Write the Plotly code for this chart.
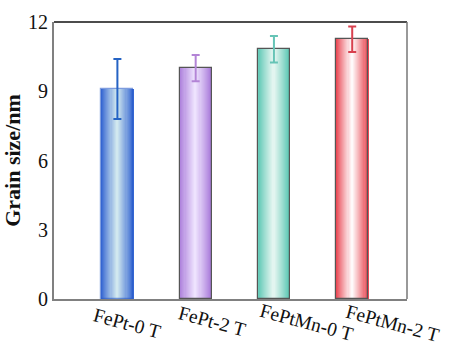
import plotly.graph_objects as go

categories = ["FePt-0 T", "FePt-2 T", "FePtMn-0 T", "FePtMn-2 T"]
grain_size = [9.1, 10.0, 10.82, 11.25]
grain_err = [1.3, 0.57, 0.57, 0.55]
y_ticks = [0, 3, 6, 9, 12]

edge_colors = [(45, 95, 208), (166, 118, 216), (88, 198, 178), (232, 64, 76)]
center_colors = [(214, 236, 240), (240, 230, 255), (230, 246, 242), (255, 255, 255)]
err_colors = ["#2563c4", "#b384d6", "#66c4b6", "#d8404e"]
outline_colors = ["rgba(40,90,200,0.6)", "#555555", "#555555", "#555555"]
label_xshift = [10, 17, 33, 41]
label_yshift = [-24, -22, -23, -24]

BAR_W = 0.41
N = 30
FONT = "Liberation Serif"

def mix(c1, c2, t):
    return "rgb(%d,%d,%d)" % tuple(round(a + (b - a) * t) for a, b in zip(c1, c2))

fig = go.Figure()
s = BAR_W / N
for k in range(N):
    pos = (k + 0.5) / N
    t = 1 - abs(pos - 0.5) / 0.5  # 0 at edges, 1 at center
    t = t ** 0.9
    cols = [mix(e, c, t) for e, c in zip(edge_colors, center_colors)]
    w = s * 1.4 if k < N - 1 else s
    fig.add_trace(go.Bar(
        x=categories, y=grain_size, width=w, offset=-BAR_W / 2 + k * s,
        marker=dict(color=cols, line=dict(width=0)),
        showlegend=False, hoverinfo="skip"))

fig.add_trace(go.Bar(
    x=categories, y=grain_size, width=BAR_W, offset=-BAR_W / 2,
    marker=dict(color="rgba(0,0,0,0)", line=dict(color=outline_colors, width=1.2)),
    showlegend=False, hoverinfo="skip"))

for i, cat in enumerate(categories):
    fig.add_trace(go.Scatter(
        x=[cat], y=[grain_size[i]], mode="markers",
        marker=dict(size=0.1, color=err_colors[i], opacity=0),
        error_y=dict(type="data", array=[grain_err[i]], color=err_colors[i],
                     thickness=2, width=4),
        showlegend=False, hoverinfo="skip"))

for i, cat in enumerate(categories):
    fig.add_annotation(
        x=cat, y=0, xref="x", yref="paper", text=cat, showarrow=False,
        textangle=15, xanchor="center", yanchor="middle",
        xshift=label_xshift[i], yshift=label_yshift[i],
        font=dict(family=FONT, size=19.5, color="#111"))

fig.add_shape(type="line", xref="paper", yref="paper", x0=0, x1=1, y0=1, y1=1,
              line=dict(color="#111", width=1.5))
fig.add_shape(type="line", xref="paper", yref="paper", x0=1, x1=1, y0=0, y1=1,
              line=dict(color="#777", width=1.5))

fig.update_layout(
    width=451, height=347,
    margin=dict(l=54, r=44, t=22, b=48, autoexpand=False),
    paper_bgcolor="white", plot_bgcolor="white",
    barmode="overlay", bargap=0,
    font=dict(family=FONT, size=20, color="#111"),
    xaxis=dict(type="category", range=[-0.81, 3.70], showticklabels=False,
               showgrid=False, zeroline=False, showline=True, automargin=False,
               linecolor="#808080", linewidth=2, ticks=""),
    yaxis=dict(range=[0, 12], tickvals=y_ticks, showgrid=False, zeroline=False,
               showline=True, linecolor="#808080", linewidth=2, ticks="",
               automargin=False, ticklen=0, tickfont=dict(family=FONT, size=20),
               title=dict(text="<b>Grain size/nm</b>", standoff=5,
                          font=dict(family=FONT, size=22))),
)

fig.write_html("out.html", config={"displayModeBar": False},
               post_script="document.body.style.margin='0';document.body.style.overflow='hidden';")
